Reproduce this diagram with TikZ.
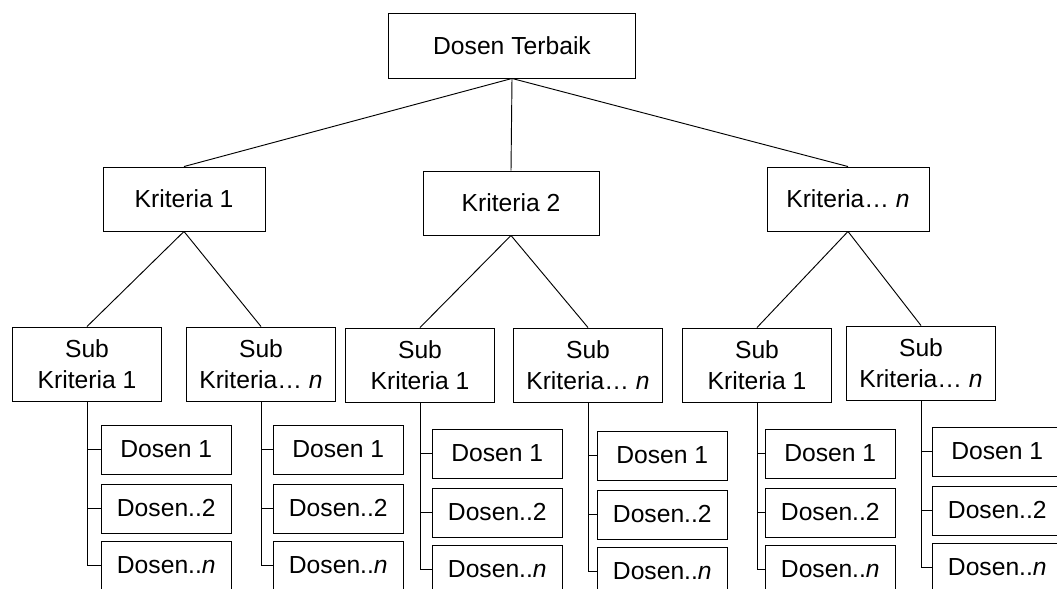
\documentclass[tikz,border=0pt]{standalone}
\usepackage{fontspec}
\setmainfont{Liberation Sans}
\usetikzlibrary{calc}

\begin{document}
\begin{tikzpicture}[
    x=0.75pt, y=-0.75pt,
    line width=0.7pt,
    font=\fontsize{18.5}{23.5}\selectfont,
    goal/.style={draw, minimum width=185.25pt, minimum height=48.75pt, inner sep=0pt},
    crit/.style={draw, minimum width=121.5pt, minimum height=48pt, inner sep=0pt},
    subcrit/.style={draw, align=center, minimum width=111.75pt, minimum height=55.5pt, inner sep=0pt},
    alt/.style={draw, anchor=west, minimum width=97.25pt, minimum height=36.75pt, inner sep=0pt}
]

    % Page frame (the last boxes run off the bottom edge)
    \useasboundingbox (0,0) rectangle (1057,589);
    \clip (0,0) rectangle (1057,589);

    % 1. Goal
    \node[goal] (goal) at (512,45.5) {Dosen Terbaik};

    % 2. Criteria
    \node[crit] (c1) at (184,199) {Kriteria 1};
    \node[crit, minimum width=132pt] (c2) at (511,203) {Kriteria 2};
    \node[crit] (cn) at (848,199) {Kriteria\dots\ \textit{n}};

    \draw (goal.south) -- (c1.north);
    \draw (goal.south) -- (c2.north);
    \draw (goal.south) -- (cn.north);

    % 3. Sub criteria
    \node[subcrit] (s1a) at (87,364) {Sub\\Kriteria 1};
    \node[subcrit] (s1b) at (261,364) {Sub\\Kriteria\dots\ \textit{n}};
    \node[subcrit] (s2a) at (420,365) {Sub\\Kriteria 1};
    \node[subcrit] (s2b) at (588,365) {Sub\\Kriteria\dots\ \textit{n}};
    \node[subcrit] (s3a) at (757,365) {Sub\\Kriteria 1};
    \node[subcrit] (s3b) at (921,363) {Sub\\Kriteria\dots\ \textit{n}};

    \draw (c1.south) -- (s1a.north);
    \draw (c1.south) -- (s1b.north);
    \draw (c2.south) -- (s2a.north);
    \draw (c2.south) -- (s2b.north);
    \draw (cn.south) -- (s3a.north);
    \draw (cn.south) -- (s3b.north);

    % 4. Alternatives under each sub criterion
    \foreach \s/\dx/\dy in {s1a/101/449.5, s1b/273/449.5, s2a/432/453.5,
                            s2b/597/455.5, s3a/765/453.5, s3b/932/451.5} {
        \node[alt] (\s-1) at (\dx,\dy) {Dosen 1};
        \node[alt] (\s-2) at (\dx,\dy+59) {Dosen..2};
        \node[alt] (\s-3) at (\dx,\dy+116) {Dosen..\textit{n}};
        \foreach \k in {1,2,3}
            \draw (\s.south) |- (\s-\k.west);
    }

\end{tikzpicture}
\end{document}
